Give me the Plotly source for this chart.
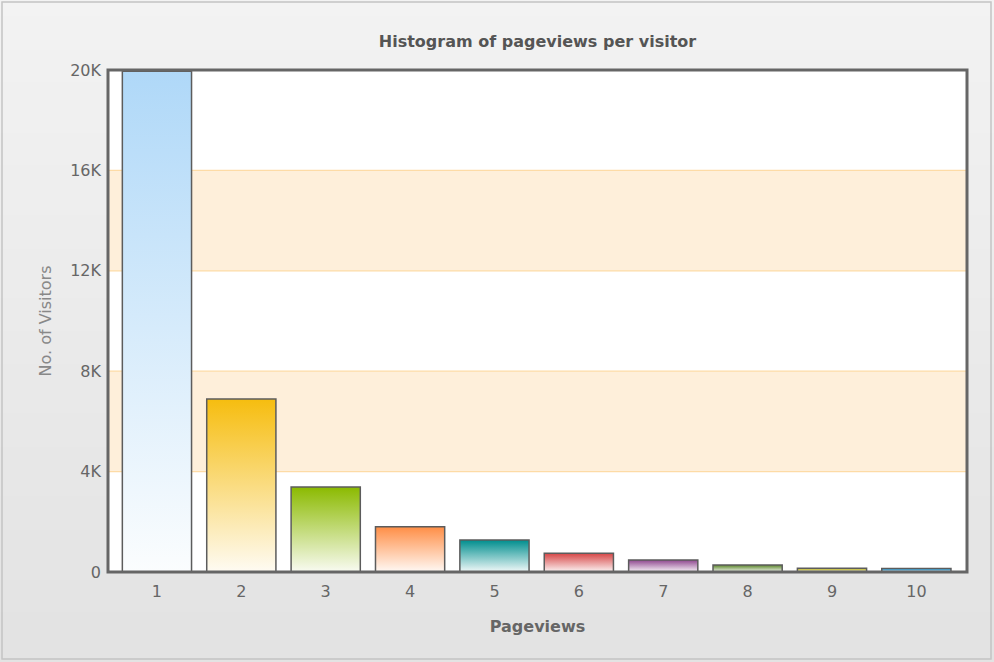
import plotly.graph_objects as go

# ---- data ----
pageviews = [1, 2, 3, 4, 5, 6, 7, 8, 9, 10]
visitors = [19950, 6890, 3390, 1800, 1270, 745, 480, 280, 150, 140]
bar_colors = ["#AFD8F8", "#F6BD0F", "#8BBA00", "#FF8E46", "#008E8E",
              "#D64646", "#8E468E", "#588526", "#B3AA00", "#008ED6"]
y_tickvals = [0, 4000, 8000, 12000, 16000, 20000]
y_ticktext = ["0", "4K", "8K", "12K", "16K", "20K"]
x_ticktext = [str(p) for p in pageviews]

W, H = 994, 662
ML, MR, MT, MB = 108, 27, 70, 90
BAR_W = 0.82


def lighten(hexc, f):
    hexc = hexc.lstrip("#")
    r, g, b = (int(hexc[i:i + 2], 16) for i in (0, 2, 4))
    r = int(r + (255 - r) * f)
    g = int(g + (255 - g) * f)
    b = int(b + (255 - b) * f)
    return f"rgb({r},{g},{b})"


fig = go.Figure()
for x, v, c in zip(pageviews, visitors, bar_colors):
    xs = [x - BAR_W / 2, x - BAR_W / 2, x + BAR_W / 2, x + BAR_W / 2, x - BAR_W / 2]
    ys = [0, v, v, 0, 0]
    fig.add_trace(go.Scatter(
        x=xs, y=ys, mode="lines", fill="toself",
        line=dict(color="#5c5c5c", width=1.5),
        fillgradient=dict(type="vertical", start=0, stop=v,
                          colorscale=[[0, lighten(c, 0.95)], [1, c]]),
        hoverinfo="text", text=f"{x}: {v}", showlegend=False,
    ))

shapes = []
# background gradient (figure)
pw = W - ML - MR
ph = H - MT - MB
n = 40
top_c = (243, 243, 243)
bot_c = (227, 227, 227)
for i in range(n):
    py0 = H * i / n
    py1 = H * (i + 1) / n + 1
    t = i / (n - 1)
    col = tuple(int(top_c[k] + (bot_c[k] - top_c[k]) * t) for k in range(3))
    shapes.append(dict(type="rect", xref="paper", yref="paper", layer="below",
                       x0=-ML / pw, x1=(W - ML) / pw,
                       y0=(H - MB - py0) / ph, y1=(H - MB - py1) / ph,
                       fillcolor=f"rgb{col}", line=dict(width=0)))
# outer border
shapes.append(dict(type="rect", xref="paper", yref="paper", layer="below",
                   x0=(2 - ML) / pw, x1=(991 - ML) / pw,
                   y0=(H - MB - 2) / ph, y1=(H - MB - 659) / ph,
                   fillcolor="rgba(0,0,0,0)", line=dict(color="#c4c4c4", width=1.5)))
# plot white background
shapes.append(dict(type="rect", xref="paper", yref="paper", layer="below",
                   x0=0, x1=1, y0=0, y1=1, fillcolor="white", line=dict(width=0)))
# alternate bands
for y0, y1 in [(4000, 8000), (12000, 16000)]:
    shapes.append(dict(type="rect", xref="paper", yref="y", layer="below",
                       x0=0, x1=1, y0=y0, y1=y1, fillcolor="#FEEFDA",
                       line=dict(color="#FDDBA6", width=1.2)))
# plot border
shapes.append(dict(type="rect", xref="paper", yref="paper", layer="above",
                   x0=0, x1=1, y0=0, y1=1, fillcolor="rgba(0,0,0,0)",
                   line=dict(color="#666666", width=3)))

fig.update_layout(
    width=W, height=H,
    margin=dict(l=ML, r=MR, t=MT, b=MB),
    paper_bgcolor="#ebebeb", plot_bgcolor="rgba(0,0,0,0)",
    shapes=shapes,
    title=dict(text="<b>Histogram of pageviews per visitor</b>",
               x=(ML + pw / 2) / W, xanchor="center", y=1 - 41 / H, yanchor="middle",
               font=dict(family="DejaVu Sans", size=16, color="#555555")),
    xaxis=dict(range=[0.42, 10.6], tickvals=pageviews, ticktext=x_ticktext,
               showgrid=False, zeroline=False, showline=False, ticks="",
               ticklabelstandoff=8,
               tickfont=dict(family="DejaVu Sans", size=16, color="#666666"),
               title=dict(text="<b>Pageviews</b>", standoff=20,
                          font=dict(family="DejaVu Sans", size=16, color="#666666"))),
    yaxis=dict(range=[0, 20000], tickvals=y_tickvals, ticktext=y_ticktext,
               showgrid=False, zeroline=False, showline=False, ticks="",
               ticklabelstandoff=6,
               tickfont=dict(family="DejaVu Sans", size=16, color="#666666"),
               title=dict(text="No. of Visitors", standoff=14,
                          font=dict(family="DejaVu Sans", size=16, color="#888888"))),
)

fig.write_html("out.html")
